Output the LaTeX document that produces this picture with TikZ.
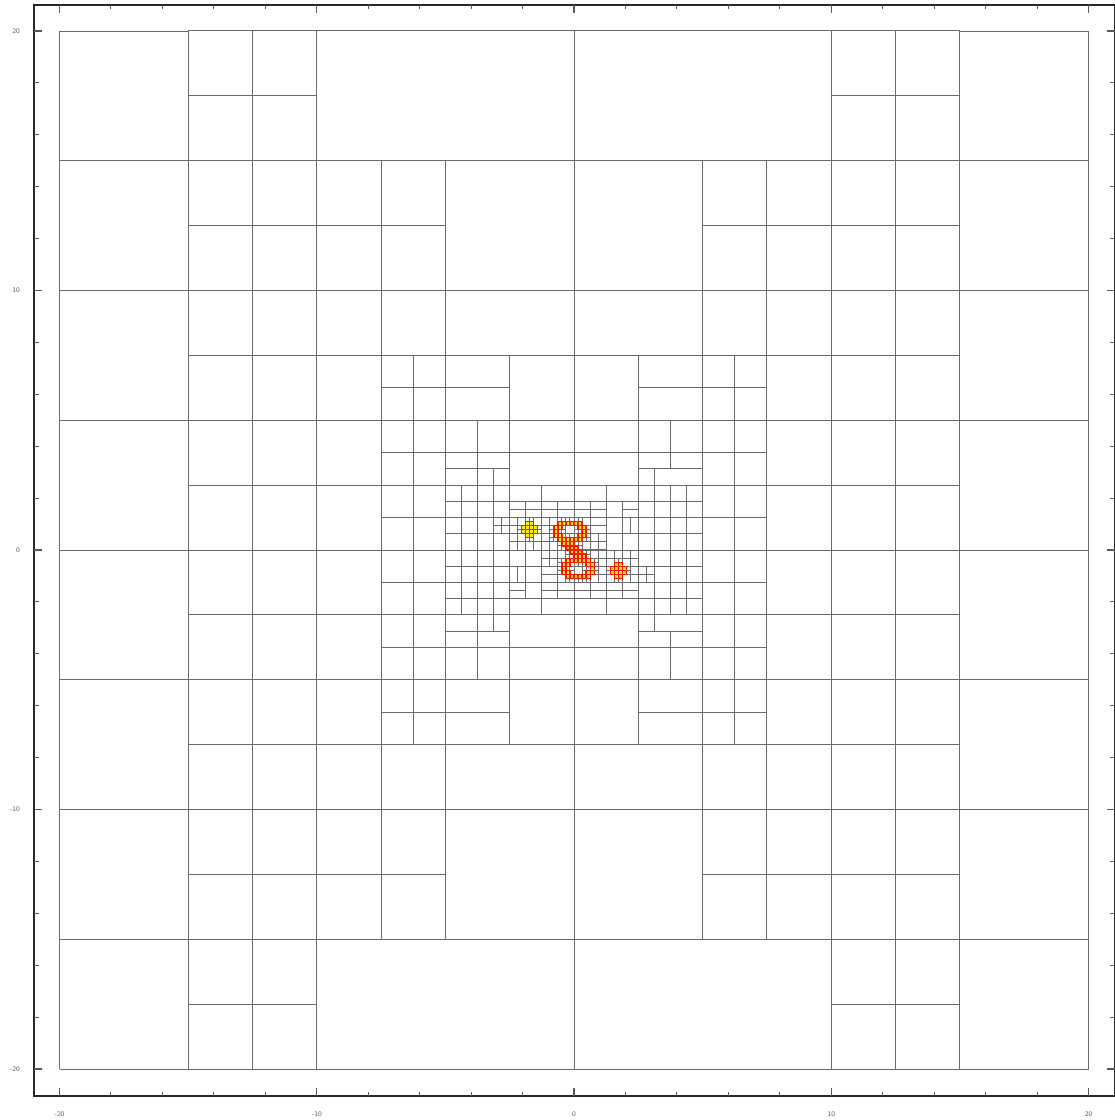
\documentclass[tikz,border=0pt]{standalone}
\definecolor{meshc}{RGB}{108,108,108}
\definecolor{axisc}{RGB}{40,40,40}
\definecolor{tickc}{RGB}{90,90,90}
\definecolor{hotfill}{RGB}{255,235,0}
\definecolor{hotedge}{RGB}{255,20,0}
\newcommand{\hh}{0.15625}
\newcommand{\halfmesh}{%
  % strips
  \draw[mesh] (-2.5,1.875) rectangle (-1.25,2.5);
  \draw[mesh] (-1.25,1.875) rectangle (0,2.5);
  \draw[mesh] (-2.5,-2.5) rectangle (-1.25,-1.875);
  \draw[mesh] (-1.25,-2.5) rectangle (0,-1.875);
  % row [1.25,1.875]
  \draw[mesh,xstep=0.625,ystep=0.3125] (-2.5,1.25) grid (0,1.875);
  % row [-1.875,-1.25]
  \draw[mesh,xstep=0.625,ystep=0.3125] (-2.5,-1.875) grid (-1.875,-1.25);
  \draw[mesh,xstep=0.625,ystep=0.3125] (-1.25,-1.875) grid (0,-1.25);
  \draw[mesh] (-1.875,-1.875) rectangle (-1.25,-1.25);
  % rows [0,1.25]
  \draw[mesh,xstep=0.3125,ystep=0.3125] (-2.5,0) grid (0,1.25);
  % row [-0.625,0]
  \draw[mesh] (-2.5,-0.625) rectangle (-1.875,0);
  \draw[mesh] (-1.875,-0.625) rectangle (-1.25,0);
  \draw[mesh,xstep=0.3125,ystep=0.3125] (-1.25,-0.625) grid (0,0);
  % row [-1.25,-0.625]
  \draw[mesh,xstep=0.3125,ystep=0.625] (-2.5,-1.25) grid (-1.875,-0.625);
  \draw[mesh] (-1.875,-1.25) rectangle (-1.25,-0.625);
  \draw[mesh,xstep=0.625,ystep=0.3125] (-1.25,-1.25) grid (-0.625,-0.625);
  \draw[mesh,xstep=0.3125,ystep=0.3125] (-0.625,-1.25) grid (0,-0.625);
  % extra refinement beside the blob
  \draw[mesh,xstep=0.3125,ystep=0.3125] (-3.125,0.625) grid (-2.5,1.25);
  % finest splits
  \foreach \k/\m in {-6/1,-7/2,-6/2,-5/2,-6/3,-2/3,-1/3,0/3,-3/2,-2/2,0/2,1/2,
                     -3/1,-2/1,-1/1,0/1,1/1,-2/0,-1/0,0/0}{
    \draw[mesh] ({\k*0.3125},{(\m+0.5)*0.3125}) -- ({(\k+1)*0.3125},{(\m+0.5)*0.3125});
    \draw[mesh] ({(\k+0.5)*0.3125},{\m*0.3125}) -- ({(\k+0.5)*0.3125},{(\m+1)*0.3125});
  }%
}
\newcommand{\halfhot}{%
  \foreach \i/\j in {-12/3,-11/3,-13/4,-12/4,-11/4,-10/4,-13/5,-12/5,-11/5,-10/5,-12/6,-11/6,
     -4/6,-3/6,-2/6,-1/6,0/6,1/6,
     -5/5,-4/5,1/5,2/5, -5/4,2/4, -5/3,-4/3,1/3,2/3,
     -4/2,-3/2,-2/2,-1/2,0/2,1/2,
     -3/1,-2/1,-1/1, -2/0,-1/0,0/0}{
    \draw[hot] ({\i*\hh},{\j*\hh}) rectangle ({(\i+1)*\hh},{(\j+1)*\hh});
  }%
}
\begin{document}
\begin{tikzpicture}[x=0.3mm,y=-0.3mm,
  mesh/.style={draw=meshc,line width=0.85pt},
  hot/.style={fill=hotfill,draw=hotedge,line width=1pt},
  frameline/.style={draw=axisc,line width=1.1pt},
  tickmark/.style={draw=tickc,line width=0.9pt},
  ticklabel/.style={font=\fontsize{6}{7}\selectfont\sffamily,text=tickc,inner sep=0pt}]
\useasboundingbox (0,0) rectangle (1114,1120);
\begin{scope}[shift={(172.2mm,-165mm)},x=7.7175mm,y=7.785mm]
% outer columns
\draw[mesh,xstep=5,ystep=5] (-20,-20) grid (-15,20);
\draw[mesh,xstep=5,ystep=5] (15,-20) grid (20,20);
\draw[mesh,xstep=2.5,ystep=2.5] (-15,-20) grid (-10,20);
\draw[mesh,xstep=2.5,ystep=2.5] (10,-20) grid (15,20);
% big cells
\foreach \a/\b/\c/\d in {-10/15/0/20, 0/15/10/20, -10/-20/0/-15, 0/-20/10/-15,
  -5/10/0/15, 0/10/5/15, -5/-15/0/-10, 0/-15/5/-10,
  -7.5/7.5/-5/10, -7.5/-10/-5/-7.5, 5/7.5/7.5/10, 5/-10/7.5/-7.5,
  -5/7.5/0/10, 0/7.5/5/10, -5/-10/0/-7.5, 0/-10/5/-7.5,
  -5/6.25/-2.5/7.5, -5/5/-2.5/6.25, 2.5/6.25/5/7.5, 2.5/5/5/6.25,
  -5/-7.5/-2.5/-6.25, -5/-6.25/-2.5/-5, 2.5/-7.5/5/-6.25, 2.5/-6.25/5/-5,
  -2.5/5/0/7.5, 0/5/2.5/7.5, -2.5/-7.5/0/-5, 0/-7.5/2.5/-5,
  -2.5/3.75/0/5, -2.5/2.5/0/3.75, 0/3.75/2.5/5, 0/2.5/2.5/3.75,
  -2.5/-5/0/-3.75, -2.5/-3.75/0/-2.5, 0/-5/2.5/-3.75, 0/-3.75/2.5/-2.5,
  -5/3.75/-3.75/5, -3.75/3.75/-2.5/5, -5/3.125/-3.75/3.75, -3.75/3.125/-2.5/3.75,
  -5/2.5/-3.75/3.125, -3.75/2.5/-3.125/3.125, -3.125/2.5/-2.5/3.125,
  -5/-5/-3.75/-3.75, -3.75/-5/-2.5/-3.75, -5/-3.75/-3.75/-3.125, -3.75/-3.75/-2.5/-3.125,
  -5/-3.125/-3.75/-2.5, -3.75/-3.125/-3.125/-2.5, -3.125/-3.125/-2.5/-2.5,
  2.5/3.75/3.75/5, 3.75/3.75/5/5, 2.5/3.125/3.75/3.75, 3.75/3.125/5/3.75,
  2.5/2.5/3.125/3.125, 3.125/2.5/5/3.125,
  2.5/-5/3.75/-3.75, 3.75/-5/5/-3.75, 2.5/-3.75/3.75/-3.125, 3.75/-3.75/5/-3.125,
  2.5/-3.125/3.125/-2.5, 3.125/-3.125/5/-2.5}
  {\draw[mesh] (\a,\b) rectangle (\c,\d);}
\draw[mesh,xstep=2.5,ystep=2.5] (-10,10) grid (-5,15);
\draw[mesh,xstep=2.5,ystep=2.5] (5,10) grid (10,15);
\draw[mesh,xstep=2.5,ystep=2.5] (-10,-15) grid (-5,-10);
\draw[mesh,xstep=2.5,ystep=2.5] (5,-15) grid (10,-10);
\draw[mesh,xstep=2.5,ystep=2.5] (-10,-10) grid (-7.5,10);
\draw[mesh,xstep=2.5,ystep=2.5] (7.5,-10) grid (10,10);
\draw[mesh,xstep=1.25,ystep=1.25] (-7.5,-7.5) grid (-5,7.5);
\draw[mesh,xstep=1.25,ystep=1.25] (5,-7.5) grid (7.5,7.5);
\draw[mesh,xstep=0.625,ystep=0.625] (-5,-2.5) grid (-2.5,2.5);
\draw[mesh,xstep=0.625,ystep=0.625] (2.5,-2.5) grid (5,2.5);
% centre: left half and its point mirror
\halfmesh
\begin{scope}[rotate=180]\halfmesh\end{scope}
\halfhot
\begin{scope}[rotate=180]\halfhot\end{scope}
\end{scope}
% frame
\draw[frameline] (34,5) rectangle (1114.6,1096);
\foreach \v in {-20,-18,...,20}{
  \draw[tickmark] ({574+25.725*\v},5) -- ++(0,4.5);
  \draw[tickmark] ({574+25.725*\v},1096) -- ++(0,-4.5);
  \draw[tickmark] (34,{550-25.95*\v}) -- ++(4.5,0);
  \draw[tickmark] (1114.6,{550-25.95*\v}) -- ++(-4.5,0);
}
\foreach \v in {-20,-10,0,10,20}{
  \draw[tickmark] ({574+25.725*\v},5) -- ++(0,8);
  \draw[tickmark] ({574+25.725*\v},1096) -- ++(0,-8);
  \draw[tickmark] (34,{550-25.95*\v}) -- ++(8,0);
  \draw[tickmark] (1114.6,{550-25.95*\v}) -- ++(-8,0);
}
\foreach \v [count=\k] in {-20,-10,0,10,20}{
  \node[ticklabel] (bx\k) at ({574+25.725*\v},1114) {\v};
  \node[ticklabel,anchor=east] (ly\k) at (20,{550-25.95*\v}) {\v};
}
\end{tikzpicture}
\end{document}
